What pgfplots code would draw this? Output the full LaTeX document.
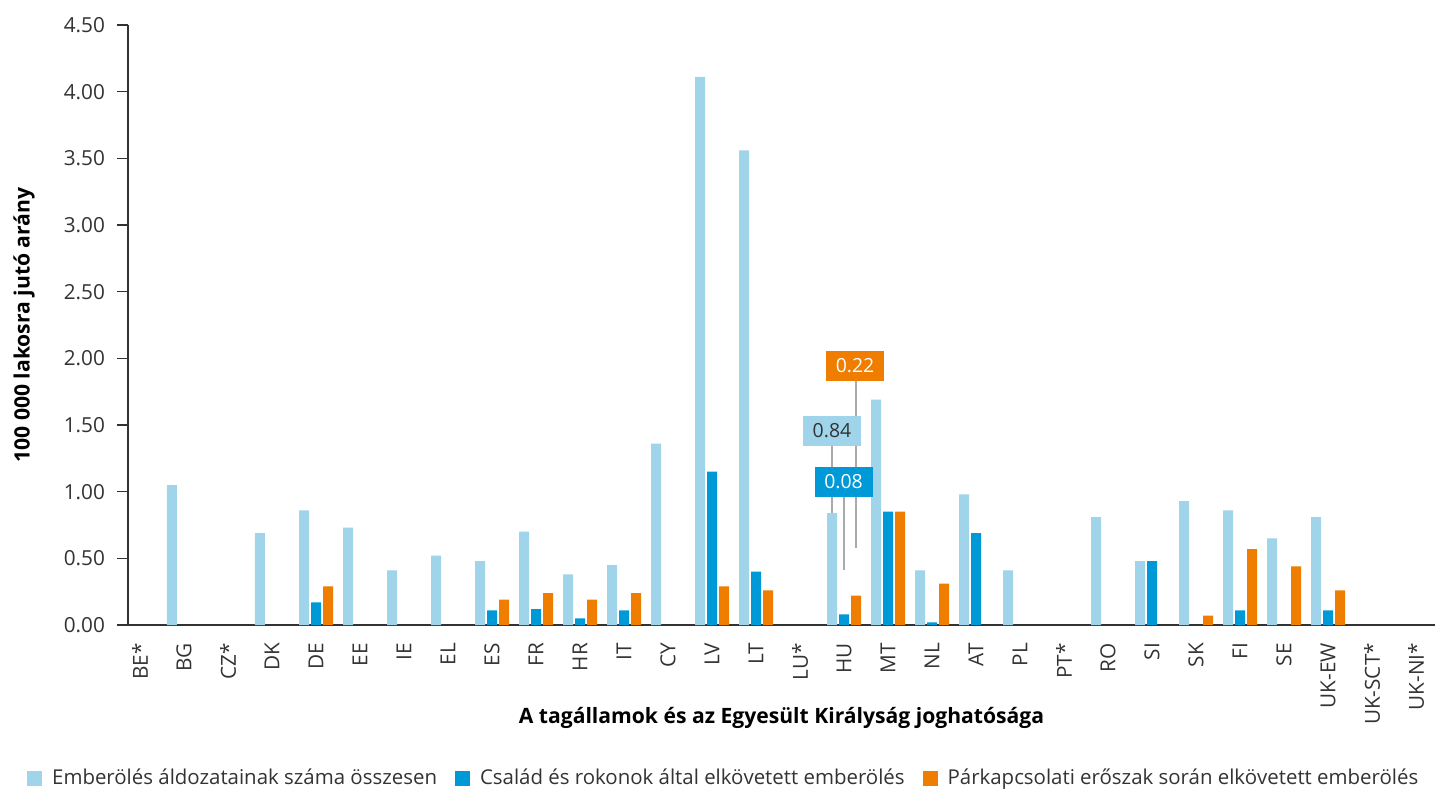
\documentclass[border=0pt]{standalone}
\usepackage{fontspec}
\setmainfont{Open Sans}
\usepackage{pgfplots}
\pgfplotsset{compat=1.18}
\definecolor{c1}{HTML}{A0D4EA}
\definecolor{c2}{HTML}{0099D8}
\definecolor{c3}{HTML}{EF7D00}
\definecolor{axgray}{HTML}{333333}
\definecolor{lgray}{HTML}{AAAAAA}
\begin{document}
\fontsize{20.8}{24}\selectfont
\begin{tikzpicture}
\begin{axis}[
  name=ax,
  scale only axis, width=1307bp, height=600bp,
  xmin=-0.2727, xmax=29.432, ymin=0, ymax=4.5,
  ybar=2bp, bar width=10bp,
  clip=false,
  axis x line=bottom, axis y line=left,
  axis line style={-, draw=axgray, line width=1.3bp},
  ytick={0,0.5,1,1.5,2,2.5,3,3.5,4,4.5},
  /pgf/number format/assume math mode=true,
  yticklabel style={text=axgray, xshift=-5bp, /pgf/number format/fixed, /pgf/number format/fixed zerofill, /pgf/number format/precision=2},
  tick align=outside, major tick length=11bp,
  ytick style={draw=axgray, line width=1.3bp},
  xtick style={draw=none},
  xtick={0,...,29},
  xticklabels={BE*,BG,CZ*,DK,DE,EE,IE,EL,ES,FR,HR,IT,CY,LV,LT,LU*,HU,MT,NL,AT,PL,PT*,RO,SI,SK,FI,SE,UK-EW,UK-SCT*,UK-NI*},
  xticklabel style={rotate=90, anchor=east, text=axgray},
  every axis y label/.style={at={(axis description cs:-0.0796,0.5)}, rotate=90, anchor=center, font=\fontsize{21.2}{25}\selectfont\bfseries},
  every axis x label/.style={at={(axis description cs:0.5,-0.155)}, anchor=center, font=\fontsize{21.2}{25}\selectfont\bfseries},
  ylabel={100 000 lakosra jutó arány},
  xlabel={A tagállamok és az Egyesült Királyság joghatósága},
  legend columns=3,
  legend image code/.code={\fill[#1, draw=none] (0bp,-7.5bp) rectangle (15bp,7.5bp);},
  legend style={at={(axis description cs:-0.0773,-0.255)}, anchor=west, draw=none, inner sep=0pt,
    font=\fontsize{20.5}{24}\selectfont,
    nodes={inner sep=0pt, text=axgray},
    /tikz/every odd column/.append style={column sep=10bp},
    /tikz/every even column/.append style={column sep=18bp}},
]
\addplot[fill=c1, draw=none] coordinates {(1,1.05) (3,0.69) (4,0.86) (5,0.73) (6,0.41) (7,0.52) (8,0.48) (9,0.70) (10,0.38) (11,0.45) (12,1.36) (13,4.11) (14,3.56) (16,0.84) (17,1.69) (18,0.41) (19,0.98) (20,0.41) (22,0.81) (23,0.48) (24,0.93) (25,0.86) (26,0.65) (27,0.81)};
\addplot[fill=c2, draw=none] coordinates {(4,0.17) (8,0.11) (9,0.12) (10,0.05) (11,0.11) (13,1.15) (14,0.40) (16,0.08) (17,0.85) (18,0.02) (19,0.69) (23,0.48) (25,0.11) (27,0.11)};
\addplot[fill=c3, draw=none] coordinates {(4,0.29) (8,0.19) (9,0.24) (10,0.19) (11,0.24) (13,0.29) (14,0.26) (16,0.22) (17,0.85) (18,0.31) (24,0.07) (25,0.57) (26,0.44) (27,0.26)};
\legend{Emberölés áldozatainak száma összesen, Család és rokonok által elkövetett emberölés, Párkapcsolati erőszak során elkövetett emberölés}
\draw[lgray, line width=1.5bp] (axis cs:16.273,0.58) -- (axis cs:16.273,1.94);
\draw[lgray, line width=1.5bp] (axis cs:15.727,0.84) -- (axis cs:15.727,1.455);
\draw[lgray, line width=1.5bp] (axis cs:16,0.41) -- (axis cs:16,1.07);
\node[fill=c3, text=white, minimum width=58bp, minimum height=30bp, inner sep=0pt, font=\fontsize{19.5}{23}\selectfont] at (axis cs:16.25,1.9425) {0.22};
\node[fill=c1, text=axgray, minimum width=58bp, minimum height=30bp, inner sep=0pt, font=\fontsize{19.5}{23}\selectfont] at (axis cs:15.727,1.455) {0.84};
\node[fill=c2, text=white, minimum width=58bp, minimum height=30bp, inner sep=0pt, font=\fontsize{19.5}{23}\selectfont] at (axis cs:15.99,1.0725) {0.08};
\end{axis}
\pgfresetboundingbox
\path[use as bounding box] ([xshift=-128bp,yshift=-164bp]ax.south west) rectangle ++(1435bp,789bp);
\end{tikzpicture}
\end{document}
